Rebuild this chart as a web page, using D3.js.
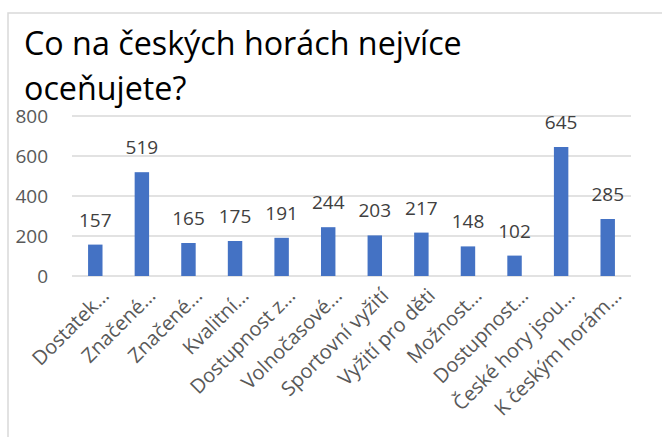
<!DOCTYPE html>
<html>
<head>
<meta charset="utf-8">
<script src="https://cdn.jsdelivr.net/npm/d3@7"></script>
<style>
  body { margin: 0; background: #fff; }
  text { font-family: "Open Sans", sans-serif; }
</style>
</head>
<body>
<div id="root"></div>
<script>
const titleLines = ["Co na českých horách nejvíce", "oceňujete?"];
const categories = [
  "Dostatek…", "Značené…", "Značené…", "Kvalitní…", "Dostupnost z…",
  "Volnočasové…", "Sportovní vyžití", "Vyžití pro děti", "Možnost…",
  "Dostupnost…", "České hory jsou…", "K českým horám…"
];
const values = [157, 519, 165, 175, 191, 244, 203, 217, 148, 102, 645, 285];
const yTicks = [0, 200, 400, 600, 800];

const width = 662;
const height = 437;
// plot area edges
const plotLeft = 72, plotRight = 631, plotTop = 116, plotBottom = 276;

const svg = d3.select("#root")
  .append("svg")
  .attr("width", width)
  .attr("height", height);

// chart frame
svg.append("rect")
  .attr("x", 8).attr("y", 13)
  .attr("width", width).attr("height", height)
  .attr("fill", "none")
  .attr("stroke", "#d9d9d9")
  .attr("stroke-width", 1.5);

// title, sized so line one spans like the reference
const title = svg.append("g");
titleLines.forEach((t, i) => {
  title.append("text")
    .attr("x", 24)
    .attr("y", 55 + i * 45)
    .attr("fill", "#000")
    .style("font-size", "30px")
    .text(t);
});
const w0 = title.select("text").node().getComputedTextLength();
title.selectAll("text").style("font-size", (30 * 438 / w0) + "px");

const x = d3.scaleBand()
  .domain(d3.range(categories.length))
  .range([plotLeft, plotRight])
  .paddingInner(0.69)
  .paddingOuter(0.345);

const y = d3.scaleLinear()
  .domain([0, 800])
  .range([plotBottom, plotTop]);

// gridlines
svg.append("g")
  .selectAll("line")
  .data(yTicks)
  .enter()
  .append("line")
  .attr("x1", plotLeft).attr("x2", plotRight)
  .attr("y1", (d) => y(d)).attr("y2", (d) => y(d))
  .attr("stroke", "#d9d9d9")
  .attr("stroke-width", 1.5);

// y axis labels
const yAxis = d3.axisLeft(y).tickValues(yTicks).tickSize(0).tickPadding(0);
svg.append("g")
  .attr("transform", "translate(48,0)")
  .call(yAxis)
  .call((g) => g.select(".domain").remove())
  .selectAll("text")
  .attr("fill", "#595959")
  .attr("dy", "0.36em")
  .style("font-size", "19px")
  .style("font-family", "Open Sans, sans-serif");

// bars
svg.append("g")
  .selectAll("rect")
  .data(values)
  .enter()
  .append("rect")
  .attr("x", (d, i) => x(i))
  .attr("y", (d) => y(d))
  .attr("width", x.bandwidth())
  .attr("height", (d) => y(0) - y(d))
  .attr("fill", "#4472c4");

// data labels
svg.append("g")
  .selectAll("text")
  .data(values)
  .enter()
  .append("text")
  .attr("x", (d, i) => x(i) + x.bandwidth() / 2)
  .attr("y", (d) => y(d) - 18)
  .attr("text-anchor", "middle")
  .attr("fill", "#404040")
  .style("font-size", "19px")
  .text((d) => d);

// category labels, rotated
const xAxis = d3.axisBottom(x).tickSize(0).tickFormat((i) => categories[i]);
svg.append("g")
  .attr("transform", `translate(0,${plotBottom})`)
  .call(xAxis)
  .call((g) => g.select(".domain").remove())
  .selectAll("text")
  .attr("fill", "#595959")
  .attr("text-anchor", "end")
  .attr("dy", 0)
  .attr("y", 0)
  .attr("transform", "translate(15,21) rotate(-45)")
  .style("font-size", "20px")
  .style("font-family", "Open Sans, sans-serif");
</script>
</body>
</html>
